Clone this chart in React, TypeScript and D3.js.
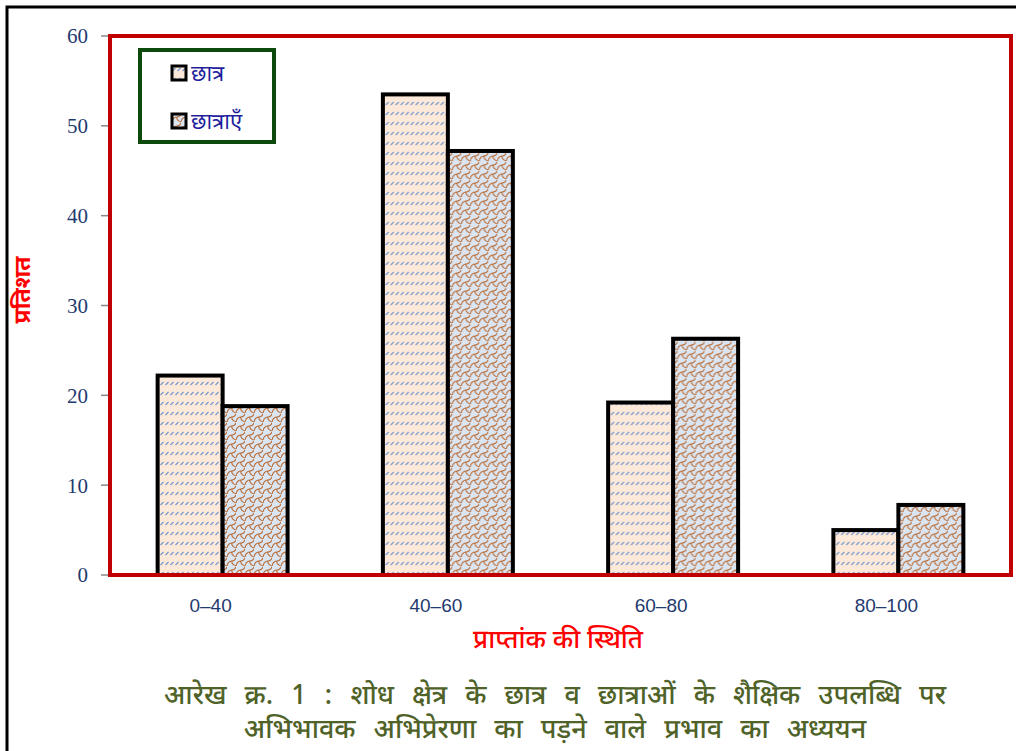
import React from "react";
import * as d3 from "d3";

const categories = ["0–40", "40–60", "60–80", "80–100"];
const seriesNames = ["छात्र", "छात्राएँ"];
const boys = [22.2, 53.5, 19.2, 5.0];
const girls = [18.8, 47.2, 26.3, 7.8];
const yTicks = [0, 10, 20, 30, 40, 50, 60];

const titleLines = [
  "आरेख क्र. 1 : शोध क्षेत्र के छात्र व छात्राओं के शैक्षिक उपलब्धि पर",
  "अभिभावक अभिप्रेरणा का पड़ने वाले प्रभाव का अध्ययन",
];

const devFont = "'Noto Sans Devanagari', 'Lohit Devanagari', 'Mangal', sans-serif";

const App = () => {
  const width = 1016;
  const height = 751;
  const plot = { left: 110, top: 36, right: 1011, bottom: 575 };

  const x0 = d3.scaleBand().domain(categories).range([plot.left, plot.right]).padding(0);
  const x1 = d3
    .scaleBand()
    .domain(seriesNames)
    .range([0, x0.bandwidth()])
    .paddingInner(0)
    .paddingOuter(0.733);
  const y = d3.scaleLinear().domain([0, 60]).range([plot.bottom, plot.top]);

  const rows = categories.map((c, i) => ({ cat: c, vals: [boys[i], girls[i]] }));
  const fills = ["url(#pat1)", "url(#pat2)"];

  return (
    <svg
      width={width}
      height={height}
      style={{ position: "absolute", left: 0, top: 0, background: "#fff" }}
    >
      <defs>
        <pattern id="pat1" width={5} height={10} patternUnits="userSpaceOnUse">
          <rect width={5} height={10} fill="#fde9d9" />
          <line x1={0.5} y1={5} x2={3.5} y2={2} stroke="#6f95cf" strokeWidth={1.1} />
        </pattern>
        <pattern id="pat2" width={9} height={9} patternUnits="userSpaceOnUse">
          <rect width={9} height={9} fill="#dbe5f1" />
          <path
            d="M0,8 Q1,3 5,3 Q8,3 9,0 M5,3 Q4,6 9,8"
            fill="none"
            stroke="#b86a33"
            strokeWidth={1.1}
          />
        </pattern>
      </defs>

      {/* outer frame */}
      <rect x={7} y={7} width={1030} height={780} fill="none" stroke="#000" strokeWidth={3} />

      {/* y ticks */}
      {yTicks.map((t) => (
        <g key={t}>
          <line x1={101} x2={plot.left} y1={y(t)} y2={y(t)} stroke="#888" strokeWidth={1.5} />
          <text
            x={88}
            y={y(t)}
            dy="0.35em"
            textAnchor="end"
            fontFamily="'Liberation Serif', serif"
            fontSize={21}
            fill="#1f3a6e"
          >
            {t}
          </text>
        </g>
      ))}

      {/* bars */}
      {rows.map((r) => (
        <g key={r.cat} transform={`translate(${x0(r.cat)},0)`}>
          {r.vals.map((v, j) => (
            <rect
              key={j}
              x={x1(seriesNames[j])}
              y={y(v)}
              width={x1.bandwidth()}
              height={plot.bottom - y(v)}
              fill={fills[j]}
              stroke="#000"
              strokeWidth={4}
            />
          ))}
        </g>
      ))}

      {/* plot border */}
      <rect
        x={plot.left}
        y={plot.top}
        width={plot.right - plot.left}
        height={plot.bottom - plot.top}
        fill="none"
        stroke="#c00000"
        strokeWidth={4}
      />

      {/* x tick labels */}
      {categories.map((c) => (
        <text
          key={c}
          x={(x0(c) as number) + x0.bandwidth() / 2 - 12}
          y={612}
          textAnchor="middle"
          fontFamily="'Liberation Sans Narrow', 'Liberation Sans', sans-serif"
          fontSize={19}
          fill="#1f3a6e"
        >
          {c}
        </text>
      ))}

      {/* axis titles */}
      <text
        x={558}
        y={648}
        textAnchor="middle"
        fontFamily={devFont}
        fontSize={26}
        fontWeight={500}
        fill="#ff0000"
      >
        प्राप्तांक की स्थिति
      </text>
      <text
        transform="translate(30,290) rotate(-90)"
        textAnchor="middle"
        fontFamily={devFont}
        fontSize={23}
        fontWeight="bold"
        fill="#ff0000"
      >
        प्रतिशत
      </text>

      {/* legend */}
      <rect x={140} y={50} width={134} height={92} fill="#fff" stroke="#0b4a0b" strokeWidth={4} />
      {seriesNames.map((s, i) => (
        <g key={s} transform={`translate(172,${66 + i * 48})`}>
          <rect x={0} y={0} width={14} height={14} fill={fills[i]} stroke="#000" strokeWidth={3} />
          <text x={19} y={7} dy="0.35em" fontFamily={devFont} fontSize={22} fill="#1f1f9e">
            {s}
          </text>
        </g>
      ))}

      {/* caption */}
      {titleLines.map((l, i) => (
        <text
          key={i}
          x={555}
          y={704 + i * 34}
          textAnchor="middle"
          fontFamily={devFont}
          fontSize={27}
          fontWeight={500}
          wordSpacing={11}
          fill="#4f6228"
        >
          {l}
        </text>
      ))}
    </svg>
  );
};

export default App;
